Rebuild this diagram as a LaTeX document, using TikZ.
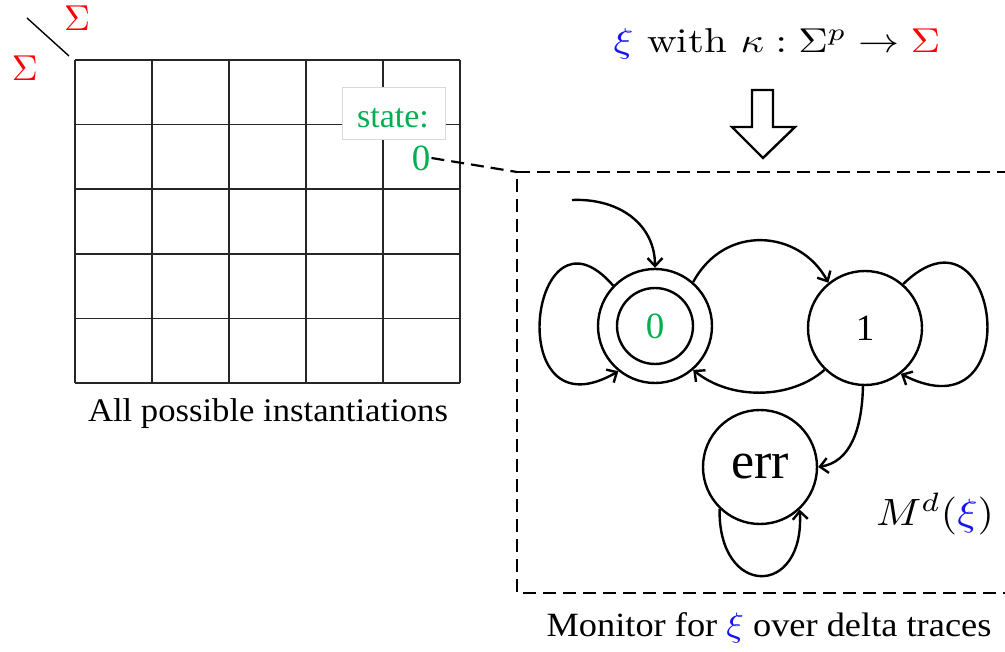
\documentclass[tikz,border=0pt]{standalone}
\usepackage[no-math]{fontspec}
\setmainfont{Liberation Serif}
\newfontfamily\cmrm{Latin Modern Roman}
\usetikzlibrary{arrows.meta}
\definecolor{sgreen}{RGB}{0,176,80}
\definecolor{sred}{RGB}{255,0,0}
\definecolor{sblue}{RGB}{20,20,245}
\newcommand{\smallxi}[1]{\scalebox{#1}{\fontsize{10}{12}\selectfont$\color{sblue}\xi$}}
\tikzset{
  gridline/.style={line width=1.6pt, draw=black!85},
  statenode/.style={circle, draw, line width=2.4pt, minimum size=114pt, inner sep=0pt},
  edge/.style={line width=2.4pt, -{Straight Barb[length=8pt,width=15pt]}},
  dashline/.style={line width=2.2pt, dash pattern=on 13pt off 7pt},
  lbl/.style={inner sep=0pt, font=\fontsize{33}{38}\selectfont},
  mathlbl/.style={inner sep=0pt, font=\fontsize{10}{12}\selectfont, scale=#1}
}
\begin{document}
\begin{tikzpicture}[x=1pt,y=-1pt]
\useasboundingbox (0,0) rectangle (1005,652);
\clip (0,0) rectangle (1005,652);
% grid
\foreach \x in {75,152,229,306,383,460} \draw[gridline] (\x,60) -- (\x,383);
\foreach \y in {60,124.6,189.2,253.8,318.4,383} \draw[gridline] (75,\y) -- (460,\y);
\draw[line width=1.4pt] (27,18) -- (69,56);
\node[mathlbl=3.6, text=sred] (sigtop) at (77,18) {$\Sigma$};
\node[mathlbl=3.6, text=sred] (sigleft) at (25,68) {$\Sigma$};
\node[lbl, xscale=1.05] (allpos) at (268,414) {All possible instantiations};
% state box
\node[fill=white, draw=black!15, line width=1pt, minimum width=103pt, minimum height=52pt, inner sep=0pt] (sbox) at (393.5,114) {};
\node[inner sep=0pt, text=sgreen, font=\fontsize{34}{38}\selectfont] (stlbl) at (393,118) {state:};
\node[inner sep=1pt, text=sgreen, font=\fontsize{37}{40}\selectfont] (zero) at (421,158) {0};
% title and hollow arrow
\node[inner sep=0pt, font=\cmrm\fontsize{10}{12}\selectfont, xscale=4.1, yscale=3.45] (title) at (777,44) {{\color{sblue}$\xi$} with $\kappa:\Sigma^p\to{\color{sred}\Sigma}$};
\draw[line width=2.4pt, fill=white, line join=miter] (752,90) -- (773,90) -- (773,127) -- (795,127) -- (763,158) -- (732,127) -- (752,127) -- cycle;
% dashed box
\coordinate (corner) at (517,172);
\draw[dashline] (zero.east) -- (corner);
\draw[dashline] (1010,172) -- (corner) -- (517,593) -- (1010,593);
% states
\node[statenode] (s0) at (655,326) {};
\node[circle, draw, line width=2.4pt, minimum size=76pt, inner sep=0pt, text=sgreen, font=\fontsize{37}{40}\selectfont] (s0in) at (s0) {0};
\node[statenode, font=\fontsize{37}{40}\selectfont] (s1) at (865,328) {1};
\node[statenode, font=\fontsize{52}{56}\selectfont] (err) at (760,467) {err};
% edges
\coordinate (init) at (572,200);
\draw[edge] (init) .. controls (620,198) and (655,225) .. (s0.north);
\draw[edge] (s0.136) .. controls (530,190) and (500,440) .. (s0.231);
\draw[edge] (s1.49) .. controls (1000,190) and (1030,440) .. (s1.-52);
\draw[edge] (s0.49) .. controls (725,223) and (800,230) .. (s1.129);
\draw[edge] (s1.226) .. controls (790,400) and (730,400) .. (s0.-49);
\draw[edge] (s1.-92) .. controls (862,430) and (850,462) .. (err.east);
\draw[edge] (err.-134) .. controls (718,598) and (805,598) .. (err.-47);
% labels
\node[inner sep=0pt, font=\fontsize{10}{12}\selectfont, xscale=4.2, yscale=3.8] (mdxi) at (935,514) {$M^d({\color{sblue}\xi})$};
\node[lbl, font=\fontsize{34}{38}\selectfont, xscale=1.07] (monitor) at (769,628) {Monitor for \smallxi{3.4} over delta traces};
\end{tikzpicture}
\end{document}
